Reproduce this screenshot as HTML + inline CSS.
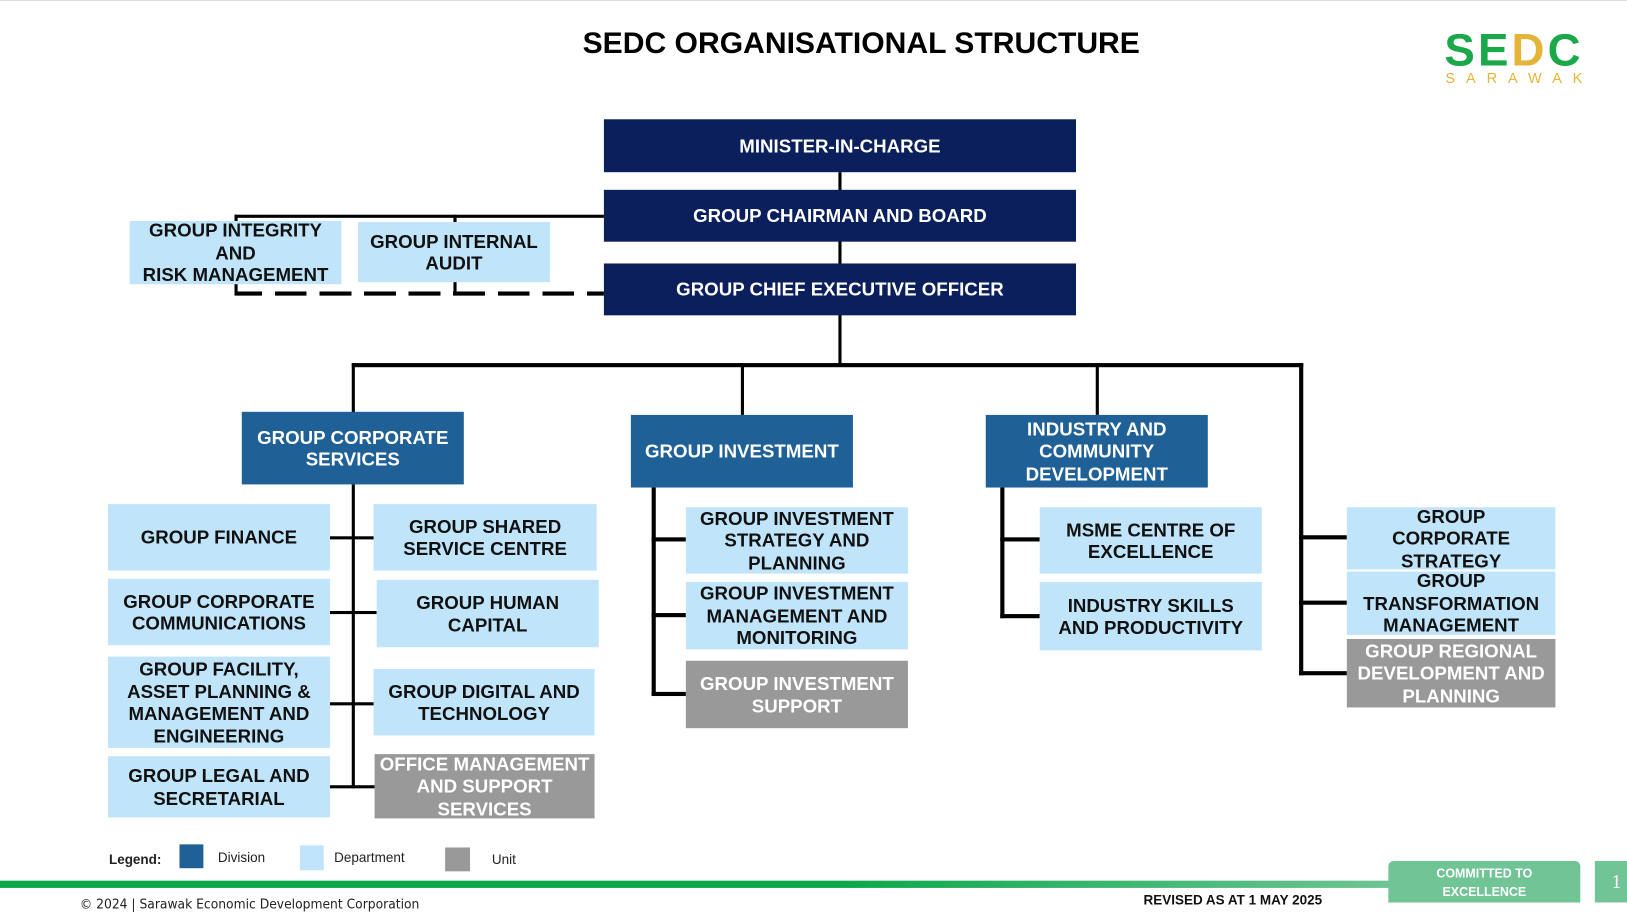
<!DOCTYPE html>
<html><head><meta charset="utf-8"><style>
html,body{margin:0;padding:0;width:1627px;height:918px;overflow:hidden;background:#fff}
#w{position:absolute;left:0;top:0;width:1568px;height:885px;transform:scale(1.03763,1.0373);transform-origin:0 0;font-family:"Liberation Sans",Arial,sans-serif}
.b{position:absolute;display:flex;align-items:center;justify-content:center;text-align:center;font-weight:bold;font-size:18px;line-height:21.5px;box-sizing:border-box;padding-top:2px}
.n{background:#0a1f5c;color:#fff}
.d{background:#1f6096;color:#fff}
.p{background:#c0e5fb;color:#111}
.u{background:#999;color:#fff}
.l{position:absolute;background:#000}
</style></head><body><div id="w">
<div style="position:absolute;left:0;top:0;width:1568px;height:1px;background:#ddd"></div>
<div style="position:absolute;left:0;top:26px;width:1660px;text-align:center;font-weight:bold;font-size:29px;color:#000">SEDC ORGANISATIONAL STRUCTURE</div>
<div style="position:absolute;left:1392px;top:24px;font-weight:bold;font-size:44px;letter-spacing:3px;color:#1aa84a;line-height:50px">SE<span style="color:#e5b53a">D</span>C</div>
<div style="position:absolute;left:1393px;top:67px;font-size:14px;letter-spacing:10.5px;color:#e5b53a">SARAWAK</div>

<div class="l" style="left:808px;top:166px;width:3px;height:186px"></div>
<div class="l" style="left:226px;top:207px;width:356px;height:3px"></div>
<div class="l" style="left:226px;top:207px;width:3px;height:8px"></div>
<div class="l" style="left:437px;top:207px;width:3px;height:8px"></div>
<div style="position:absolute;left:226px;top:281px;width:356px;height:0;border-top:4px dashed #000;border-image:repeating-linear-gradient(90deg,#000 0 30px,transparent 30px 42px) 4"></div>
<div class="l" style="left:226px;top:272px;width:3px;height:12px"></div>
<div class="l" style="left:437px;top:270px;width:3px;height:13px"></div>

<div class="b n" style="left:582px;top:115px;width:455px;height:51px">MINISTER-IN-CHARGE</div>
<div class="b n" style="left:582px;top:183px;width:455px;height:50px">GROUP CHAIRMAN AND BOARD</div>
<div class="b n" style="left:582px;top:254px;width:455px;height:50px">GROUP CHIEF EXECUTIVE OFFICER</div>
<div class="b p" style="left:125px;top:213px;width:204px;height:61px">GROUP INTEGRITY<br>AND<br>RISK MANAGEMENT</div>
<div class="b p" style="left:345px;top:214px;width:185px;height:58px">GROUP INTERNAL<br>AUDIT</div>

<div class="l" style="left:339px;top:350px;width:917px;height:4px"></div>
<div class="l" style="left:339px;top:350px;width:3px;height:48px"></div>
<div class="l" style="left:714px;top:350px;width:3px;height:50px"></div>
<div class="l" style="left:1056px;top:350px;width:3px;height:50px"></div>
<div class="l" style="left:1252px;top:350px;width:4px;height:301px"></div>

<div class="l" style="left:339px;top:467px;width:3px;height:293px"></div>
<div class="l" style="left:318px;top:517px;width:43px;height:3px"></div>
<div class="l" style="left:318px;top:589px;width:45px;height:3px"></div>
<div class="l" style="left:318px;top:677px;width:43px;height:3px"></div>
<div class="l" style="left:318px;top:757px;width:43px;height:3px"></div>
<div class="b d" style="left:233px;top:397px;width:214px;height:70px">GROUP CORPORATE<br>SERVICES</div>
<div class="b p" style="left:104px;top:486px;width:214px;height:64px">GROUP FINANCE</div>
<div class="b p" style="left:104px;top:558px;width:214px;height:64px">GROUP CORPORATE<br>COMMUNICATIONS</div>
<div class="b p" style="left:104px;top:633px;width:214px;height:88px">GROUP FACILITY,<br>ASSET PLANNING &amp;<br>MANAGEMENT AND<br>ENGINEERING</div>
<div class="b p" style="left:104px;top:729px;width:214px;height:59px">GROUP LEGAL AND<br>SECRETARIAL</div>
<div class="b p" style="left:360px;top:486px;width:215px;height:64px">GROUP SHARED<br>SERVICE CENTRE</div>
<div class="b p" style="left:363px;top:559px;width:214px;height:65px">GROUP HUMAN<br>CAPITAL</div>
<div class="b p" style="left:360px;top:645px;width:213px;height:64px">GROUP DIGITAL AND<br>TECHNOLOGY</div>
<div class="b u" style="left:361px;top:727px;width:212px;height:62px">OFFICE MANAGEMENT<br>AND SUPPORT<br>SERVICES</div>

<div class="l" style="left:628px;top:470px;width:4px;height:200px"></div>
<div class="l" style="left:628px;top:518px;width:33px;height:4px"></div>
<div class="l" style="left:628px;top:591px;width:33px;height:4px"></div>
<div class="l" style="left:628px;top:667px;width:33px;height:4px"></div>
<div class="b d" style="left:608px;top:400px;width:214px;height:70px">GROUP INVESTMENT</div>
<div class="b p" style="left:661px;top:489px;width:214px;height:64px">GROUP INVESTMENT<br>STRATEGY AND<br>PLANNING</div>
<div class="b p" style="left:661px;top:561px;width:214px;height:65px">GROUP INVESTMENT<br>MANAGEMENT AND<br>MONITORING</div>
<div class="b u" style="left:661px;top:637px;width:214px;height:65px">GROUP INVESTMENT<br>SUPPORT</div>

<div class="l" style="left:964px;top:470px;width:4px;height:126px"></div>
<div class="l" style="left:964px;top:518px;width:38px;height:4px"></div>
<div class="l" style="left:964px;top:592px;width:38px;height:4px"></div>
<div class="b d" style="left:950px;top:400px;width:214px;height:70px">INDUSTRY AND<br>COMMUNITY<br>DEVELOPMENT</div>
<div class="b p" style="left:1002px;top:489px;width:214px;height:64px">MSME CENTRE OF<br>EXCELLENCE</div>
<div class="b p" style="left:1002px;top:561px;width:214px;height:66px">INDUSTRY SKILLS<br>AND PRODUCTIVITY</div>

<div class="l" style="left:1252px;top:516px;width:46px;height:4px"></div>
<div class="l" style="left:1252px;top:579px;width:46px;height:4px"></div>
<div class="l" style="left:1252px;top:647px;width:46px;height:4px"></div>
<div class="b p" style="left:1298px;top:489px;width:201px;height:60px">GROUP<br>CORPORATE<br>STRATEGY</div>
<div class="b p" style="left:1298px;top:551px;width:201px;height:61px">GROUP<br>TRANSFORMATION<br>MANAGEMENT</div>
<div class="b u" style="left:1298px;top:616px;width:201px;height:66px">GROUP REGIONAL<br>DEVELOPMENT AND<br>PLANNING</div>

<div style="position:absolute;left:105px;top:821px;font-size:13px;font-weight:bold;color:#222">Legend:</div>
<div style="position:absolute;left:173px;top:814px;width:23px;height:23px;background:#1f6096"></div>
<div style="position:absolute;left:210px;top:819px;font-size:13px;color:#222">Division</div>
<div style="position:absolute;left:289px;top:815px;width:23px;height:24px;background:#c0e5fb"></div>
<div style="position:absolute;left:322px;top:819px;font-size:13px;color:#222">Department</div>
<div style="position:absolute;left:429px;top:817px;width:24px;height:23px;background:#999"></div>
<div style="position:absolute;left:474px;top:821px;font-size:13px;color:#222">Unit</div>

<div style="position:absolute;left:0;top:849px;width:1340px;height:7px;background:linear-gradient(90deg,#0aa84a 0%,#0aa84a 60%,#6fc494 100%)"></div>
<div style="position:absolute;left:1338px;top:830px;width:185px;height:40px;background:#70c496;border-radius:5px 5px 0 0;color:#fff;font-weight:bold;font-size:12px;line-height:18px;text-align:center;padding-top:3px;box-sizing:border-box">COMMITTED TO<br>EXCELLENCE</div>
<div style="position:absolute;left:1537px;top:830px;width:40px;height:40px;background:#70c496;color:#fff;font-size:19px;line-height:42px;padding-left:16px;box-sizing:border-box;font-family:'Liberation Serif',serif">1</div>
<div style="position:absolute;left:77px;top:864px;font-size:12.5px;color:#222;font-family:'DejaVu Sans',sans-serif;transform:scaleX(0.95);transform-origin:0 0">© 2024 | Sarawak Economic Development Corporation</div>
<div style="position:absolute;left:1102px;top:860px;font-size:13px;font-weight:bold;color:#111">REVISED AS AT 1 MAY 2025</div>
</div></body></html>
